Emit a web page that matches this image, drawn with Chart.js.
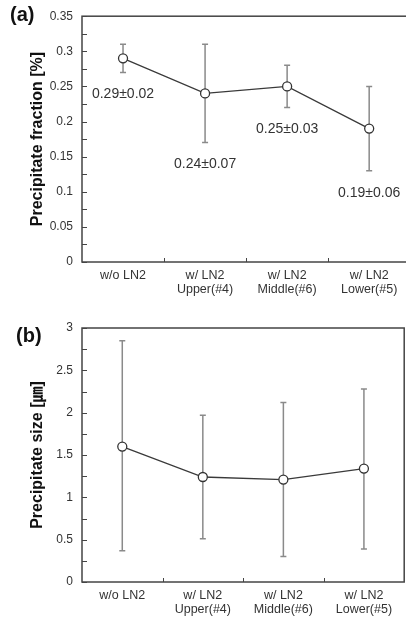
<!DOCTYPE html>
<html>
<head>
<meta charset="utf-8">
<script src="https://cdn.jsdelivr.net/npm/chart.js@4/dist/chart.umd.min.js"></script>
<style>
  html, body { margin: 0; padding: 0; background: #fff; overflow: hidden; width: 406px; height: 620px; }
  .panel { position: absolute; }
  .tag { position: absolute; font: bold 20px "Liberation Sans", Arial, sans-serif; color: #111; }
</style>
</head>
<body>
<div class="panel" style="left:0;top:0;width:416px;height:300px"><canvas id="chartA"></canvas></div>
<div class="panel" style="left:0;top:300px;width:410px;height:320px"><canvas id="chartB"></canvas></div>
<div class="tag" style="left:10px;top:3px">(a)</div>
<div class="tag" style="left:16px;top:324px">(b)</div>
<script>
const categories = [["w/o LN2"], ["w/ LN2", "Upper(#4)"], ["w/ LN2", "Middle(#6)"], ["w/ LN2", "Lower(#5)"]];

// (a) precipitate fraction
const fractionMean = [0.29, 0.24, 0.25, 0.19];
const fractionErr = [0.02, 0.07, 0.03, 0.06];
const fractionText = ["0.29±0.02", "0.24±0.07", "0.25±0.03", "0.19±0.06"];

// (b) precipitate size
const sizeMean = [1.6, 1.24, 1.21, 1.34];
const sizeHigh = [2.85, 1.97, 2.12, 2.28];
const sizeLow = [0.37, 0.51, 0.3, 0.39];

const FONT = "'Liberation Sans', Arial, 'Noto Sans CJK KR', sans-serif";
const AXIS_COLOR = "#444";

// error bars, frame, inner ticks, value texts
const decor = {
  id: "decor",
  beforeDatasetsDraw(chart, args, opts) {
    const ctx = chart.ctx;
    const x = chart.scales.x;
    const y = chart.scales.y;
    ctx.save();
    ctx.strokeStyle = "#8a8a8a";
    ctx.lineWidth = 1.5;
    opts.low.forEach((lo, i) => {
      const px = x.getPixelForValue(i);
      const y1 = y.getPixelForValue(lo);
      const y2 = y.getPixelForValue(opts.high[i]);
      ctx.beginPath();
      ctx.moveTo(px, y1);
      ctx.lineTo(px, y2);
      ctx.moveTo(px - 3, y1);
      ctx.lineTo(px + 3, y1);
      ctx.moveTo(px - 3, y2);
      ctx.lineTo(px + 3, y2);
      ctx.stroke();
    });
    ctx.restore();
  },
  afterDraw(chart, args, opts) {
    const ctx = chart.ctx;
    const area = chart.chartArea;
    const x = chart.scales.x;
    const y = chart.scales.y;
    ctx.save();
    ctx.strokeStyle = AXIS_COLOR;
    ctx.lineWidth = 1.5;
    ctx.strokeRect(area.left, area.top, area.right - area.left, area.bottom - area.top);

    ctx.lineWidth = 1;
    ctx.beginPath();
    for (let v = y.min; v <= y.max + 1e-9; v += opts.minor) {
      const py = Math.round(y.getPixelForValue(v)) + 0.5;
      ctx.moveTo(area.left, py);
      ctx.lineTo(area.left + 5, py);
    }
    for (let i = 1; i < categories.length; i++) {
      const px = Math.round((x.getPixelForValue(i - 1) + x.getPixelForValue(i)) / 2) + 0.5;
      ctx.moveTo(px, area.bottom);
      ctx.lineTo(px, area.bottom - 4);
    }
    ctx.stroke();

    if (opts.text) {
      ctx.fillStyle = "#333";
      ctx.font = "14px " + FONT;
      ctx.textAlign = "center";
      ctx.textBaseline = "middle";
      opts.text.forEach((t, i) => {
        ctx.fillText(t, x.getPixelForValue(i), y.getPixelForValue(opts.low[i]) + 22);
      });
    }
    ctx.restore();
  }
};

function makeOptions(o) {
  return {
    responsive: true,
    maintainAspectRatio: false,
    animation: false,
    layout: { padding: { left: 0, top: o.top, right: 2, bottom: 0 } },
    plugins: {
      legend: { display: false },
      tooltip: { enabled: false },
      decor: { low: o.low, high: o.high, minor: o.minor, text: o.text }
    },
    scales: {
      x: {
        type: "category",
        offset: true,
        grid: { display: false, drawTicks: false },
        border: { display: false },
        ticks: {
          color: "#333",
          padding: 6,
          maxRotation: 0,
          autoSkip: false,
          font: { family: FONT, size: 12.5, lineHeight: 1.15 }
        },
        afterFit(scale) { scale.height = 38; }
      },
      y: {
        min: 0,
        max: o.max,
        grid: { display: false, drawTicks: false },
        border: { display: false },
        ticks: {
          stepSize: o.step,
          color: "#333",
          padding: 9,
          font: { family: FONT, size: 12 },
          callback: (v) => +v.toFixed(2)
        },
        title: {
          display: true,
          text: o.title,
          color: "#111",
          padding: { top: 28, bottom: 0 },
          font: { family: FONT, size: 16, weight: "bold" }
        },
        afterFit(scale) { scale.width = 82; }
      }
    }
  };
}

function lineDataset(values) {
  return {
    data: values,
    borderColor: "#3a3a3a",
    borderWidth: 1.3,
    pointRadius: 4.5,
    pointBackgroundColor: "#fff",
    pointBorderColor: "#333",
    pointBorderWidth: 1.3,
    tension: 0
  };
}

new Chart(document.getElementById("chartA"), {
  type: "line",
  data: { labels: categories, datasets: [lineDataset(fractionMean)] },
  options: makeOptions({
    top: 9, max: 0.35, step: 0.05, minor: 0.025,
    title: "Precipitate fraction [%]",
    low: fractionMean.map((m, i) => m - fractionErr[i]),
    high: fractionMean.map((m, i) => m + fractionErr[i]),
    text: fractionText
  }),
  plugins: [decor]
});

new Chart(document.getElementById("chartB"), {
  type: "line",
  data: { labels: categories, datasets: [lineDataset(sizeMean)] },
  options: makeOptions({
    top: 28, max: 3, step: 0.5, minor: 0.25,
    title: "Precipitate size [㎛]",
    low: sizeLow,
    high: sizeHigh,
    text: null
  }),
  plugins: [decor]
});
</script>
</body>
</html>
